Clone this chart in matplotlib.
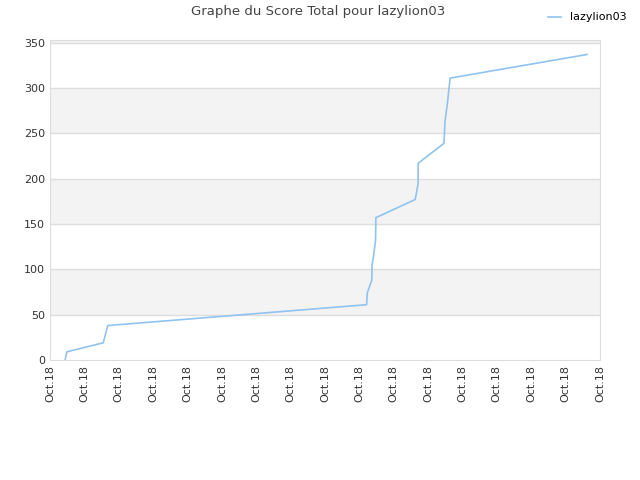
import numpy as np
import matplotlib
matplotlib.use("Agg")
import matplotlib.pyplot as plt

# x in tick units (one unit per "Oct.18" label), y = total score
x_vals = [0.44, 0.49, 1.55, 1.68, 9.21, 9.23, 9.36, 9.37, 9.41, 9.47, 9.48,
          10.62, 10.65, 10.71, 10.71, 11.46, 11.49, 11.56, 11.64, 15.62]
scores = [0, 9, 19, 38, 61, 74, 88, 105, 114, 132, 157,
          177, 182, 195, 217, 239, 263, 283, 311, 337]
tick_pos = list(range(17))
tick_labels = ["Oct.18"] * 17
player = "lazylion03"

fig = plt.figure(figsize=(6.4, 4.8), dpi=100)
ax = fig.add_axes([50/640, 120/480, 550/640, 320/480])

ymax = 353
# alternating horizontal bands
for lo in range(0, 351, 50):
    hi = min(lo + 50, ymax)
    if (lo // 50) % 2 == 1:
        ax.axhspan(lo, hi, color="#f3f3f3", lw=0, zorder=0)
for g in range(50, 351, 50):
    ax.axhline(g, color="#dddddd", lw=1, zorder=1)

ax.plot(x_vals, scores, color="#90c3f0", lw=1.2, label=player, zorder=3)

ax.set_xlim(0, 16)
ax.set_ylim(0, ymax)
ax.set_xticks(tick_pos)
ax.set_xticklabels(tick_labels, rotation=90, fontsize=8, color="#333333")
ax.set_yticks(range(0, 351, 50))
ax.tick_params(axis="y", labelsize=8, colors="#333333")
ax.tick_params(length=0)
for s in ax.spines.values():
    s.set_color("#dddddd")

fig.text(0.497, 0.975, "Graphe du Score Total pour " + player, ha="center", va="center",
         fontsize=9.5, color="#444444")
fig.legend(loc="upper right", bbox_to_anchor=(0.995, 0.995), frameon=False,
           fontsize=8, handlelength=1.2)

fig.savefig("out.png", dpi=100)
